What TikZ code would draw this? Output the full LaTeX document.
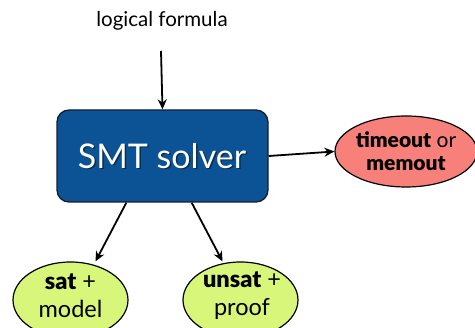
\documentclass[tikz,border=0pt]{standalone}
\usepackage{fontspec}
\setmainfont{Lato}[BoldFont={Lato Black}]
\usetikzlibrary{arrows.meta,shapes.geometric}
\definecolor{smtblue}{RGB}{12,83,150}
\definecolor{smtborder}{RGB}{20,30,50}
\definecolor{resgreen}{RGB}{216,246,122}
\definecolor{resred}{RGB}{248,128,122}
\tikzset{
  conn/.style={draw=black, line width=1.8pt, -{Stealth[length=10pt,width=9pt]}},
  result/.style={ellipse, draw=black, line width=1.2pt, inner sep=0pt, align=center},
}
\begin{document}
\begin{tikzpicture}[x=1pt,y=-1pt]
\clip (0,0) rectangle (475,328);
\useasboundingbox (0,0) rectangle (475,328);
\node[font=\fontsize{20.5}{24}\selectfont] (input) at (162,21) {logical formula};
\coordinate (inend) at (161,51);
\node[draw=smtborder, line width=1.3pt, fill=smtblue, rounded corners=12pt,
      minimum width=211pt, minimum height=92pt, inner sep=0pt] (smt) at (162.5,156) {};
\node[text=black, opacity=0.45, font=\fontsize{34}{38}\selectfont] at (163.5,157.5) {SMT solver};
\node[text=white, font=\fontsize{34}{38}\selectfont] (smtlabel) at (162,156) {SMT solver};
\node[result, fill=resred, minimum width=142pt, minimum height=71pt,
      font=\fontsize{21}{23}\selectfont] (timeout) at (406,151.5)
      {\textbf{timeout} or\\\textbf{memout}};
\node[result, fill=resgreen, minimum width=115pt, minimum height=76pt] (sat) at (70.5,300) {};
\node[font=\fontsize{23.5}{28}\selectfont, align=center] (satlabel) at (70.5,296) {\textbf{sat} +\\model};
\node[result, fill=resgreen, minimum width=115pt, minimum height=76pt] (unsat) at (240.5,300) {};
\node[font=\fontsize{23.5}{28}\selectfont, align=center] (unsatlabel) at (242,296) {\textbf{unsat} +\\proof};
\draw[conn] (inend) -- (smt.north);
\draw[conn] ([xshift=70pt]smt.south west) -- ([xshift=25pt]sat.north);
\draw[conn] ([xshift=-77pt]smt.south east) -- ([xshift=-18pt]unsat.north);
\draw[conn] (smt.east) -- (timeout.west);
\end{tikzpicture}
\end{document}
